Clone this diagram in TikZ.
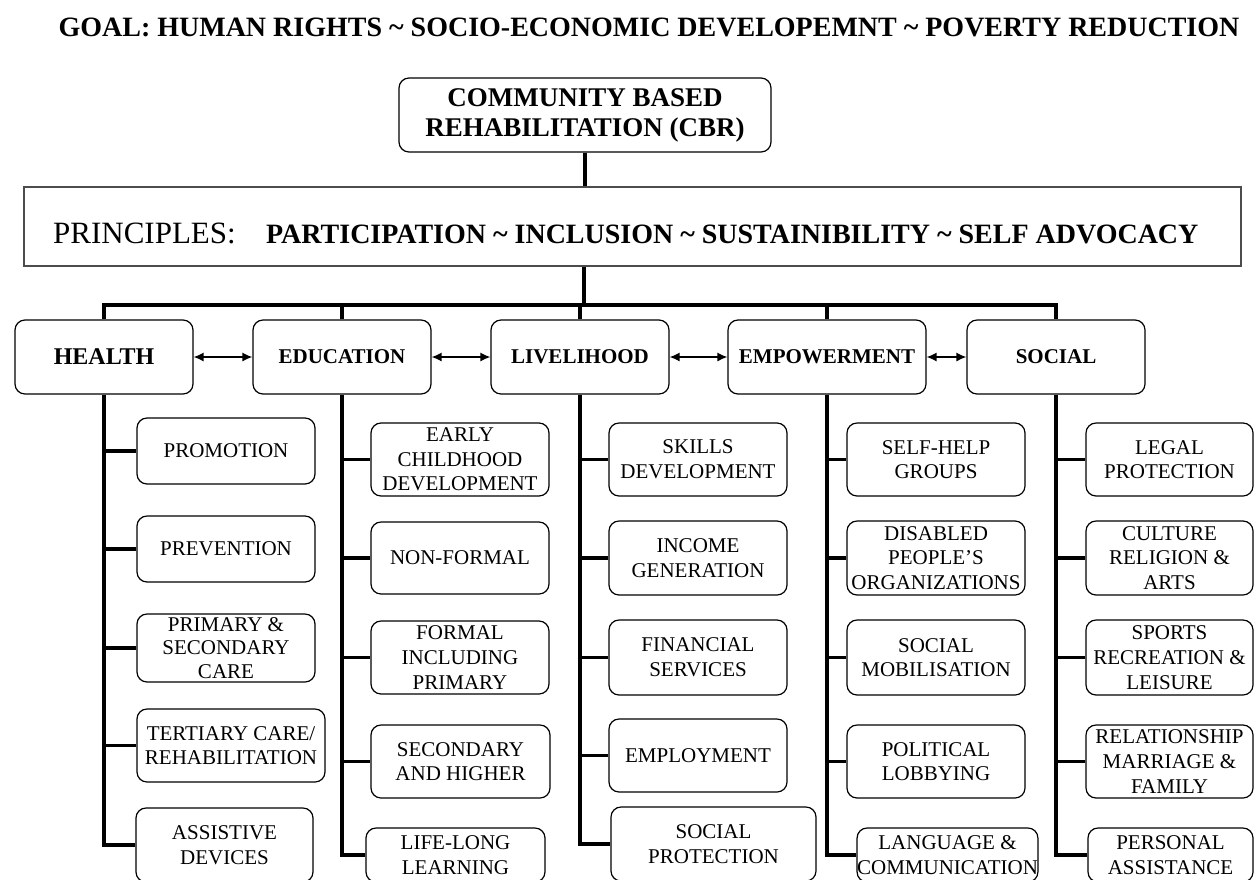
\documentclass[tikz,border=0pt]{standalone}
\usepackage{fontspec}
\setmainfont{Liberation Serif}
\usetikzlibrary{arrows.meta}
\newcommand\itemsize{\fontsize{21}{24.7}\selectfont}
\newcommand\catsize{\fontsize{21}{25}\selectfont\bfseries}

\begin{document}
\begin{tikzpicture}[x=1pt,y=-1pt,
  sz/.style 2 args={minimum width=#1pt, minimum height=#2pt},
  item/.style={draw, line width=1.2pt, rounded corners=10pt, align=center, inner sep=0pt, font=\itemsize},
  cat/.style={item, font=\catsize},
  link/.style={line width=3.8pt},
  stem/.style={line width=3.3pt},
  bus/.style={line width=4pt, line cap=rect},
  duo/.style={{Latex[length=10pt,width=9pt]}-{Latex[length=10pt,width=9pt]}, line width=1.3pt},
  txt/.style={inner sep=0pt}
]
\useasboundingbox (0,0) rectangle (1255,879);
\clip (0,0) rectangle (1255,879);

% goal line
\node[txt, anchor=base, font=\fontsize{28}{30}\selectfont\bfseries] (goal) at (649,36)
  {GOAL: HUMAN RIGHTS \textasciitilde{} SOCIO-ECONOMIC DEVELOPEMNT \textasciitilde{} POVERTY REDUCTION};

% top of the hierarchy
\node[item, sz={372}{74}, font=\fontsize{27}{30}\selectfont\bfseries] (cbr) at (585,115)
  {COMMUNITY BASED\\REHABILITATION (CBR)};

\node[draw=black!70, line width=1.3pt, sz={1217}{79}, inner sep=0pt] (princ) at (632.5,226.5) {};
\node[txt, anchor=base west, font=\fontsize{31}{33}\selectfont] (plab) at (53,243) {PRINCIPLES:};
\node[txt, anchor=base west, font=\fontsize{28}{30}\selectfont\bfseries] (plist) at (266,243)
  {PARTICIPATION \textasciitilde{} INCLUSION \textasciitilde{} SUSTAINIBILITY \textasciitilde{} SELF ADVOCACY};

% the five components
\node[cat, sz={178}{74}, font=\fontsize{24}{26}\selectfont\bfseries] (health) at (104,357) {HEALTH};
\node[cat, sz={178}{74}] (edu)  at (342,357) {EDUCATION};
\node[cat, sz={178}{74}] (live) at (580,357) {LIVELIHOOD};
\node[cat, sz={198}{74}] (emp)  at (827,357) {EMPOWERMENT};
\node[cat, sz={178}{74}] (soc)  at (1056,357) {SOCIAL};

% health elements
\node[item, sz={178}{66}] (h1) at (226,451) {PROMOTION};
\node[item, sz={178}{66}] (h2) at (226,549) {PREVENTION};
\node[item, sz={178}{68}, font=\fontsize{21}{23.5}\selectfont] (h3) at (226,648) {PRIMARY \&\\SECONDARY\\CARE};
\node[item, sz={188}{73}] (h4) at (231,745.5) {TERTIARY CARE/\\REHABILITATION};
\node[item, sz={177}{74}] (h5) at (224.5,845) {ASSISTIVE\\DEVICES};

% education elements
\node[item, sz={178}{73}] (e1) at (460,459.5) {EARLY\\CHILDHOOD\\DEVELOPMENT};
\node[item, sz={178}{72}] (e2) at (460,558) {NON-FORMAL};
\node[item, sz={178}{73}] (e3) at (460,657.5) {FORMAL\\INCLUDING\\PRIMARY};
\node[item, sz={179}{73}] (e4) at (460.5,761.5) {SECONDARY\\AND HIGHER};
\node[item, sz={179}{54}] (e5) at (455.5,855) {LIFE-LONG\\LEARNING};

% livelihood elements
\node[item, sz={178}{73}] (l1) at (698,459.5) {SKILLS\\DEVELOPMENT};
\node[item, sz={178}{74}] (l2) at (698,558) {INCOME\\GENERATION};
\node[item, sz={178}{75}] (l3) at (698,657.5) {FINANCIAL\\SERVICES};
\node[item, sz={178}{73}] (l4) at (698,755.5) {EMPLOYMENT};
\node[item, sz={205}{74}] (l5) at (713.5,844) {SOCIAL\\PROTECTION};

% empowerment elements
\node[item, sz={178}{73}] (m1) at (936,459.5) {SELF-HELP\\GROUPS};
\node[item, sz={178}{74}] (m2) at (936,558) {DISABLED\\PEOPLE'S\\ORGANIZATIONS};
\node[item, sz={178}{75}] (m3) at (936,657.5) {SOCIAL\\MOBILISATION};
\node[item, sz={178}{73}] (m4) at (936,761.5) {POLITICAL\\LOBBYING};
\node[item, sz={179}{54}] (m5) at (947.5,855) {LANGUAGE \&\\COMMUNICATION};

% social elements
\node[item, sz={167}{73}] (s1) at (1169.5,459.5) {LEGAL\\PROTECTION};
\node[item, sz={167}{74}] (s2) at (1169.5,558) {CULTURE\\RELIGION \&\\ARTS};
\node[item, sz={167}{75}] (s3) at (1169.5,657.5) {SPORTS\\RECREATION \&\\LEISURE};
\node[item, sz={167}{73}] (s4) at (1169.5,761.5) {RELATIONSHIP\\MARRIAGE \&\\FAMILY};
\node[item, sz={165}{54}] (s5) at (1170.5,855) {PERSONAL\\ASSISTANCE};

% trunk and bus
\coordinate (hub) at (584,305);
\draw[stem] (cbr.south) -- (cbr.south |- princ.north);
\draw[stem] (princ.south -| hub) -- (hub);
\draw[bus] (health.north |- hub) -- (soc.north |- hub);
\foreach \c in {health,edu,live,emp,soc}
  \draw[stem] (\c.north) -- (\c.north |- hub);

% links between neighbouring components
\draw[duo] (health.east) -- (edu.west);
\draw[duo] (edu.east) -- (live.west);
\draw[duo] (live.east) -- (emp.west);
\draw[duo] (emp.east) -- (soc.west);

% spines and branches
\foreach \c/\p in {health/h,edu/e,live/l,emp/m,soc/s}{
  \draw[link] (\c.south) |- (\p5.west);
  \foreach \i in {1,2,3,4}
    \draw[link] (\c.south |- \p\i.west) -- (\p\i.west);
}
\end{tikzpicture}
\end{document}
